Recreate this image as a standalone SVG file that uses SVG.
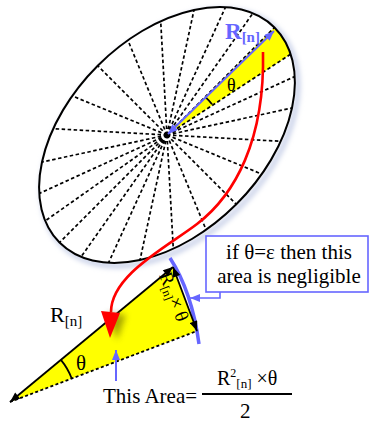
<svg xmlns="http://www.w3.org/2000/svg" width="369" height="423" viewBox="0 0 369 423">
<style>
.t{font-family:"Liberation Serif","Times New Roman",serif;fill:#000}
.spoke{stroke:#000;stroke-width:1.7;stroke-dasharray:3.5 2.5;fill:none}
.blk{stroke:#000;stroke-width:1.8;fill:none}
.blu{stroke:#6666ff;fill:none}
</style>
<defs>
<marker id="ab" viewBox="0 0 10 8" refX="10" refY="4" markerWidth="11" markerHeight="8" markerUnits="userSpaceOnUse" orient="auto-start-reverse"><path d="M0,0 L10,4 L0,8 Z" fill="#6666ff"/></marker>
<marker id="ak" viewBox="0 0 10 8" refX="10" refY="4" markerWidth="11" markerHeight="8" markerUnits="userSpaceOnUse" orient="auto-start-reverse"><path d="M0,0 L10,4 L0,8 Z" fill="#000"/></marker>
<filter id="sh" x="-20%" y="-20%" width="140%" height="140%"><feGaussianBlur stdDeviation="2.5"/></filter>
<filter id="sh2" x="-50%" y="-50%" width="200%" height="200%"><feGaussianBlur stdDeviation="3"/></filter>
</defs>

<g id="disk">
<ellipse cx="170" cy="138" rx="152" ry="98" transform="rotate(-45 170 138)" fill="none" stroke="#c8d0e8" stroke-width="5" filter="url(#sh)"/>
<ellipse cx="167" cy="135" rx="152" ry="98" transform="rotate(-45 167 135)" fill="#fff"/>
<path d="M167,135 L274.5,27.5 A152,98 -45 0 1 290.6,54.2 Z" fill="#ffff00"/>
<path class="spoke" d="M167,135L274.5,27.5M167,135L290.6,54.2M167,135L294.7,76.6M167,135L292,108M167,135L280.8,141.3M167,135L261.8,174.1M167,135L236.3,204.3M167,135L206.1,229.8M167,135L173.3,248.8M167,135L140,260M167,135L108.6,262.7M167,135L81.1,256.8M167,135L59.5,242.5M167,135L45.2,220.9M167,135L39.3,193.4M167,135L42,162M167,135L53.3,128.7M167,135L72.2,95.9M167,135L97.7,65.7M167,135L127.9,40.2M167,135L160.7,21.3M167,135L194,10M167,135L225.4,7.3M167,135L252.9,13.2"/>
<ellipse cx="167" cy="135" rx="152" ry="98" transform="rotate(-45 167 135)" fill="none" stroke="#000" stroke-width="2"/>
<path d="M205.2,96.8 A54,54 0 0 1 212,104.2" class="blk"/>
<text class="t" x="227" y="91" font-size="18">θ</text>
<line x1="168" y1="134" x2="274" y2="31" class="blu" stroke-width="2" marker-start="url(#ab)" marker-end="url(#ab)"/>
<text class="t" x="225" y="39" font-size="23" font-weight="bold" style="fill:#6666ff">R<tspan font-size="15" dy="3">[n]</tspan></text>
</g>

<g id="sector">
<polygon points="10,402 173,267 197,331" fill="#ffff00"/>
<path d="M170,258 Q192,292 199,344" class="blu" stroke-width="3.5"/>
<line x1="10" y1="402" x2="197" y2="331" class="blk" stroke-dasharray="3 2.4"/>
<line x1="10" y1="402" x2="173" y2="267" class="blk" marker-start="url(#ak)" marker-end="url(#ak)"/>
<line x1="173" y1="267" x2="197" y2="331" class="blk" marker-start="url(#ak)" marker-end="url(#ak)"/>
<path d="M60.9,359.9 A66,66 0 0 1 71.6,378.2" class="blk"/>
<text class="t" x="76" y="370" font-size="21">θ</text>
<text class="t" x="50" y="322" font-size="22">R<tspan font-size="15" dy="4">[n]</tspan></text>
<text class="t" transform="translate(159,275) rotate(69)" font-size="19">R<tspan font-size="12" dy="3">[n]</tspan><tspan dy="-3">× θ</tspan></text>
</g>

<g id="note">
<rect x="206" y="236" width="162" height="56" fill="#fff" stroke="#6666ff" stroke-width="1.6"/>
<text class="t" x="289" y="259" font-size="21" text-anchor="middle">if θ=ε then this</text>
<text class="t" x="289" y="283" font-size="21" text-anchor="middle">area is negligible</text>
</g>

<g id="formula">
<text class="t" x="103" y="403" font-size="21">This Area=</text>
<line x1="202" y1="394" x2="292" y2="394" stroke="#000" stroke-width="2"/>
<text class="t" x="217" y="385" font-size="20">R<tspan font-size="12" dy="-8">2</tspan><tspan font-size="13" dy="11">[n]</tspan><tspan dy="-3"> ×θ</tspan></text>
<text class="t" x="240" y="418" font-size="21">2</text>
</g>

<g id="connectors">
<path d="M263,52 C265,140 235,195 197,224 C167,247 111,275 111,312" stroke="#ff0000" stroke-width="2.6" fill="none"/>
<polygon points="107,313 126,315 117,340" fill="#6b6b00" opacity="0.6" filter="url(#sh2)"/>
<polygon points="101,311 120,313 110,338" fill="#ff0000"/>
<polyline points="220,292 220,298 190,298" class="blu" stroke-width="1.6" marker-end="url(#ab)"/>
<line x1="116" y1="381" x2="116" y2="350" class="blu" stroke-width="2" marker-end="url(#ab)"/>
</g>
</svg>
